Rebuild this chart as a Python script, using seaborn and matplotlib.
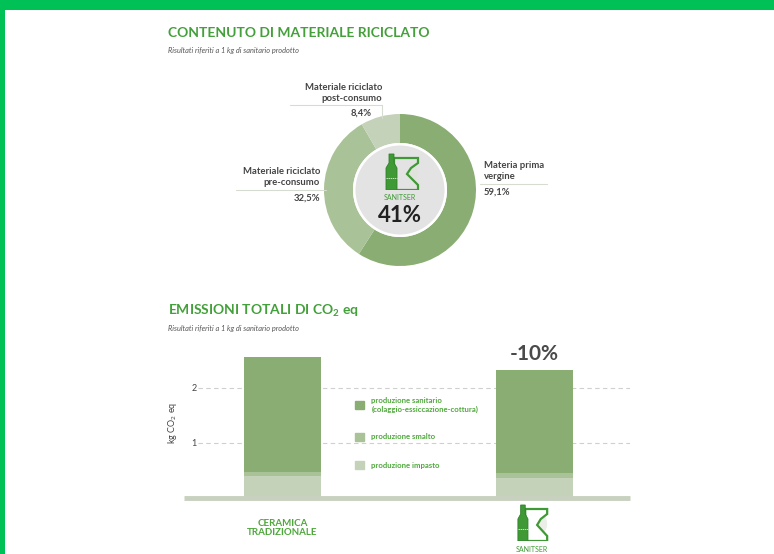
import numpy as np
import pandas as pd
import seaborn as sns
import matplotlib.pyplot as plt
from matplotlib.patches import Rectangle, Polygon, Circle, Patch

# ---- data ----
donut_labels = ["Materia prima\nvergine", "Materiale riciclato\npre-consumo", "Materiale riciclato\npost-consumo"]
donut_shares = [59.1, 32.5, 8.4]
donut_pct = ["59,1%", "32,5%", "8,4%"]
recycled_total = "41%"

categories = ["CERAMICA\nTRADIZIONALE", "SANITSER"]
impasto = [0.39, 0.36]
smalto = [0.08, 0.09]
sanitario = [2.09, 1.87]
delta_label = "-10%"
legend_labels = ["produzione sanitario\n(colaggio-essiccazione-cottura)", "produzione smalto", "produzione impasto"]

# ---- style ----
sns.set_theme(style="white")
plt.rcParams['font.family'] = ['Lato', 'DejaVu Sans']

W, H = 774, 554
c_dark = "#8aad73"
c_mid = "#a9c297"
c_light = "#c4d2ba"
green_title = "#43a03a"
green_txt = "#4fa83c"
gray_txt = "#444444"

fig = plt.figure(figsize=(W / 100, H / 100), dpi=100)


def fx(x):
    return x / W


def fy(y):
    return 1 - y / H


def px_axes(x0, y0, x1, y1):
    # axes from pixel box (top-left origin)
    return fig.add_axes([fx(x0), fy(y1), (x1 - x0) / W, (y1 - y0) / H])


# frame bars
fig.add_artist(Rectangle((0, fy(10)), 1, 10 / H, transform=fig.transFigure, color="#00c155", lw=0))
fig.add_artist(Rectangle((0, 0), 5 / W, 1, transform=fig.transFigure, color="#00c155", lw=0))


def draw_logo(x0, y0, x1, y1, bg=None):
    lax = px_axes(x0, y0, x1, y1)
    lax.set_xlim(0, 35)
    lax.set_ylim(0, 38)
    lax.axis("off")
    lax.add_patch(Circle((21, 17), 12, color="#dfe3d6", alpha=0.6, lw=0))
    toilet = [(9, 32), (33, 32), (33, 27), (26, 22), (22, 16), (33, 5), (33, 0), (9, 0)]
    lax.add_patch(Polygon(toilet, closed=True, facecolor="white" if bg is None else bg,
                          edgecolor="#3f9a35", lw=1.6))
    bottle = [(1, 0), (12, 0), (12, 22), (9, 27), (9, 36), (4, 36), (4, 27), (1, 22)]
    lax.add_patch(Polygon(bottle, closed=True, facecolor="#3f9a35", edgecolor="#2f7f2a", lw=0.6))
    lax.plot([1, 12], [12, 12], color="white", lw=0.5, ls=(0, (2, 1)))
    return lax


# ---- section titles ----
fig.text(fx(168), fy(33), "CONTENUTO DI MATERIALE RICICLATO", color=green_title,
         fontsize=10, fontweight="bold", va="center")
fig.text(fx(168), fy(50), "Risultati riferiti a 1 kg di sanitario prodotto", color="#555555",
         fontsize=5.3, style="italic", va="center")
fig.text(fx(168), fy(311), "EMISSIONI TOTALI DI CO$_\\mathregular{2}$ eq", color=green_title,
         fontsize=10, fontweight="bold", va="center")
fig.text(fx(168), fy(328), "Risultati riferiti a 1 kg di sanitario prodotto", color="#555555",
         fontsize=5.3, style="italic", va="center")

# ---- donut ----
cx, cy, R = 400, 190, 76
dax = px_axes(cx - R, cy - R, cx + R, cy + R)
dax.pie(donut_shares, colors=[c_dark, c_mid, c_light], startangle=90, counterclock=False,
        radius=1, wedgeprops=dict(width=1 - 47 / R, edgecolor="none"))
dax.add_patch(Circle((0, 0), 47 / R, color="white", lw=0))
dax.add_patch(Circle((0, 0), 44.5 / R, color="#e3e3e3", lw=0))
dax.set_xlim(-1, 1)
dax.set_ylim(-1, 1)
dax.axis("off")

draw_logo(385, 152, 420, 190, bg="#e3e3e3")
fig.text(fx(400), fy(198), "SANITSER", color="#3f9a35", fontsize=5, ha="center", va="center")
fig.text(fx(400), fy(216), recycled_total, color="#222222", fontsize=16, fontweight="bold",
         ha="center", va="center")

lab_kw = dict(color=gray_txt, fontsize=6.8, fontweight="bold", linespacing=1.15)
line_kw = dict(color="#d6dccf", lw=0.8, transform=fig.transFigure)
# materia prima vergine
fig.text(fx(484), fy(171), donut_labels[0], ha="left", va="center", **lab_kw)
fig.add_artist(plt.Line2D([fx(480), fx(547)], [fy(184), fy(184)], **line_kw))
fig.text(fx(484), fy(192), donut_pct[0], ha="left", va="center", **lab_kw)
# pre-consumo
fig.text(fx(320), fy(177), donut_labels[1], ha="right", va="center", **lab_kw)
fig.add_artist(plt.Line2D([fx(236), fx(326)], [fy(190), fy(190)], **line_kw))
fig.text(fx(320), fy(198), donut_pct[1], ha="right", va="center", **lab_kw)
# post-consumo
fig.text(fx(382), fy(93), donut_labels[2], ha="right", va="center", **lab_kw)
fig.add_artist(plt.Line2D([fx(290), fx(382), fx(382)], [fy(105), fy(105), fy(118)], **line_kw))
fig.text(fx(372), fy(113), donut_pct[2], ha="right", va="center", **lab_kw)

# ---- stacked bars ----
df = pd.DataFrame({"cat": categories, "impasto": impasto, "smalto": smalto, "sanitario": sanitario})
df["lvl1"] = df["impasto"]
df["lvl2"] = df["impasto"] + df["smalto"]
df["lvl3"] = df["lvl2"] + df["sanitario"]

x0c, scale = 282.5, 251.5
zero_y, unit = 497.5, 55
ax_l, ax_r, ax_t, ax_b = 198, 630, 340, 505
bax = px_axes(ax_l, ax_t, ax_r, ax_b)
bw = 77 / scale
for col, c in [("lvl3", c_dark), ("lvl2", c_mid), ("lvl1", c_light)]:
    sns.barplot(data=df, x="cat", y=col, color=c, saturation=1, width=bw, errorbar=None,
                ax=bax, edgecolor="none", linewidth=0, zorder=3)

bax.set_xlim((ax_l - x0c) / scale, (ax_r - x0c) / scale)
bax.set_ylim(-(ax_b - zero_y) / unit, (zero_y - ax_t) / unit)
bax.set_yticks([1, 2])
bax.set_yticklabels(["1", "2"], fontsize=6.5, color=gray_txt)
bax.tick_params(axis="y", length=0, pad=1)
bax.yaxis.grid(True, color="#cfcfcf", lw=0.8, ls=(0, (4, 3)))
bax.set_axisbelow(True)
for s in bax.spines.values():
    s.set_visible(False)
bax.plot([(184 - x0c) / scale, (ax_r - x0c) / scale], [0, 0], color="#c8d1bf", lw=3.5,
         clip_on=False, zorder=4, solid_capstyle="butt")
bax.set_ylabel("kg CO$_\\mathregular{2}$ eq", fontsize=6.5, color=gray_txt, labelpad=9)
bax.set_xlabel("")
bax.set_xticks([0, 1])
bax.set_xticklabels([categories[0], ""], fontsize=7, fontweight="bold", color=green_txt,
                    linespacing=1.0)
bax.tick_params(axis="x", length=0, pad=10)

bax.text(1, df["lvl3"].iloc[1] + 0.1, delta_label, ha="center", va="bottom", fontsize=15,
         fontweight="bold", color="#4a4a4a")

handles = [Patch(color=c) for c in [c_dark, c_mid, c_light]]
leg = fig.legend(handles, legend_labels, loc="upper left", bbox_to_anchor=(fx(352), fy(394)),
                 frameon=False, prop=dict(size=5.6, weight="bold"), labelcolor=green_txt,
                 handlelength=1.2, handleheight=1.2, handletextpad=0.9, labelspacing=2.6,
                 borderaxespad=0)

draw_logo(517, 503, 549, 541)
fig.text(fx(532), fy(549), "SANITSER", color="#3f9a35", fontsize=5, ha="center", va="center")

fig.savefig("out.png", dpi=100)
